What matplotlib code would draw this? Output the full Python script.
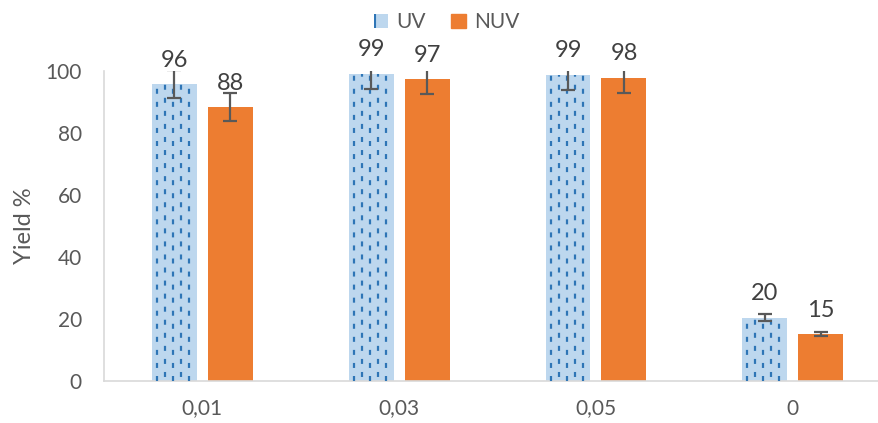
import matplotlib
matplotlib.use("Agg")
import matplotlib.pyplot as plt
from matplotlib.patches import Patch
import numpy as np

plt.rcParams['font.family'] = ['Lato', 'DejaVu Sans']
plt.rcParams['lines.scale_dashes'] = False
plt.rcParams['hatch.linewidth'] = 1.5

categories = ["0,01", "0,03", "0,05", "0"]
uv = [95.6, 99.0, 98.7, 20.3]
nuv = [88.1, 97.2, 97.7, 15.0]
uv_err = [4.6, 5.0, 4.9, 1.2]
nuv_err = [4.5, 4.7, 4.9, 0.8]
uv_labels = ["96", "99", "99", "20"]
nuv_labels = ["88", "97", "98", "15"]

W, H, DPI = 879, 423, 100
fig = plt.figure(figsize=(W / DPI, H / DPI), dpi=DPI)
ax_left, ax_right = 104, 879
ax_bottom_px, ax_top_px = 380.5, 70.5
ax = fig.add_axes([ax_left / W, (H - ax_bottom_px) / H,
                   (ax_right - ax_left) / W, (ax_bottom_px - ax_top_px) / H])

spacing_px = 197.0
first_center_px = 201.7
xmin = -0.5
xmax = (ax_right - first_center_px) / spacing_px
ax.set_xlim(xmin, xmax)
ax.set_ylim(0, 100)

x = np.arange(len(categories))
px = 1.0 / spacing_px
bw = 45 * px
off = 28 * px

light_blue = "#BDD7EE"
dark_blue = "#2E75B6"
orange = "#ED7D31"
err_col = "#595959"
lab_col = "#404040"

bars_uv = ax.bar(x - off, uv, width=bw, color=light_blue, zorder=2)
bars_nuv = ax.bar(x + off, nuv, width=bw, color=orange, zorder=2)

# dashed vertical pattern inside UV bars
for i, b in enumerate(bars_uv):
    bx = b.get_x()
    for k in range(5):
        xc = bx + (5 + 8 * k) * px
        dash_off = 0 if k % 2 == 0 else 6.5
        ln, = ax.plot([xc, xc], [0, 100], color=dark_blue, lw=1.6,
                      linestyle=(dash_off, (3.6, 5.8)), zorder=3,
                      solid_capstyle='butt', dash_capstyle='butt')
        ln.set_clip_path(b)

ax.errorbar(x - off, uv, yerr=uv_err, fmt='none', ecolor=err_col,
            elinewidth=1.6, capsize=5, capthick=1.6, zorder=4)
ax.errorbar(x + off, nuv, yerr=nuv_err, fmt='none', ecolor=err_col,
            elinewidth=1.6, capsize=5, capthick=1.6, zorder=4)

for i in range(len(categories)):
    ax.annotate(uv_labels[i], (x[i] - off, uv[i]), xytext=(0, 9.5),
                textcoords='offset points', ha='center', va='bottom',
                fontsize=17, color=lab_col, annotation_clip=False)
    ax.annotate(nuv_labels[i], (x[i] + off, nuv[i]), xytext=(0, 9.5),
                textcoords='offset points', ha='center', va='bottom',
                fontsize=17, color=lab_col, annotation_clip=False)

ax.set_xticks(x)
ax.set_xticklabels(categories)
ax.set_yticks([0, 20, 40, 60, 80, 100])
ax.tick_params(axis='both', length=0, labelsize=15, colors='#595959')
ax.tick_params(axis='x', pad=13)
ax.tick_params(axis='y', pad=16)
for s in ['top', 'right']:
    ax.spines[s].set_visible(False)
for s in ['left', 'bottom']:
    ax.spines[s].set_color('#D9D9D9')
    ax.spines[s].set_linewidth(1.2)

ax.set_ylabel("Yield %", fontsize=17, color='#595959')
ax.yaxis.set_label_coords(-(104 - 35) / (ax_right - ax_left), 0.5)

handles = [Patch(facecolor=light_blue, edgecolor=dark_blue, hatch='|', linewidth=0),
           Patch(facecolor=orange, edgecolor=orange)]
fig.legend(handles, ["UV", "NUV"], loc='upper center', bbox_to_anchor=(0.508, 1.015),
           ncol=2, frameon=False, fontsize=15, handlelength=0.7, handleheight=0.7,
           handletextpad=0.4, columnspacing=1.2, labelcolor='#595959')

fig.savefig("out.png", dpi=DPI)
